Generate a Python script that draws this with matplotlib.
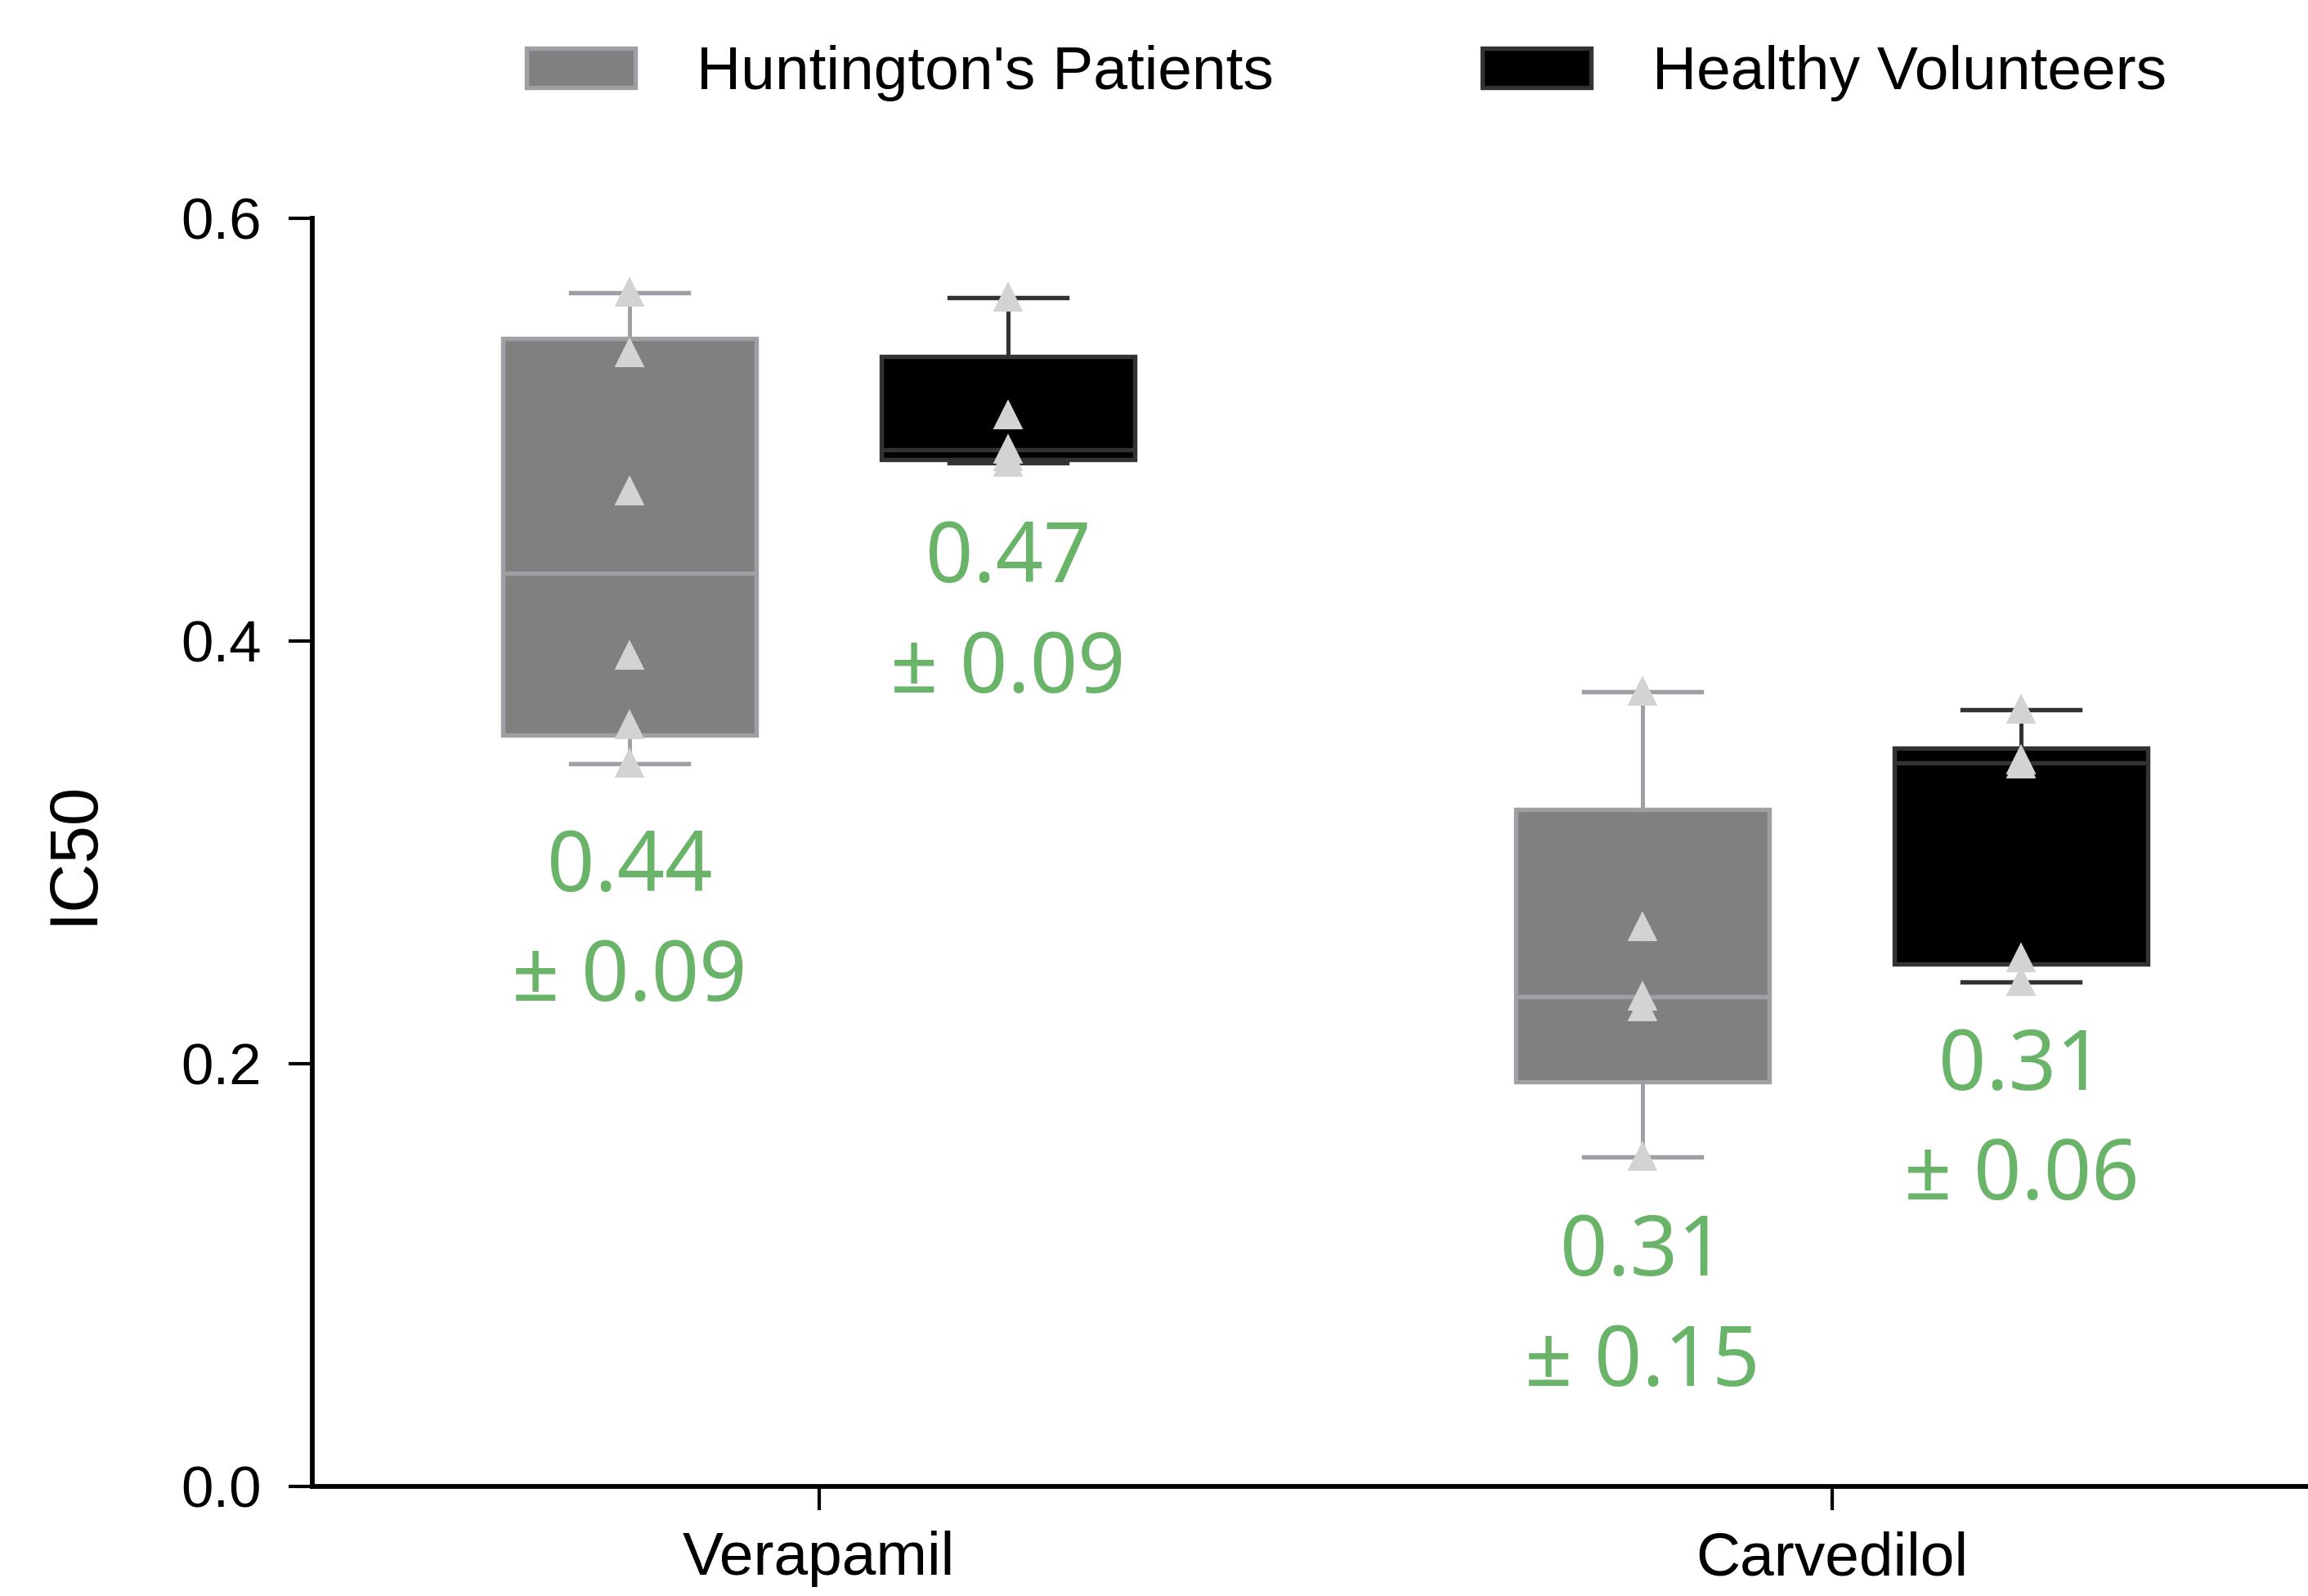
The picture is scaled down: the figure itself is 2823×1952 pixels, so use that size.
import matplotlib
matplotlib.use("Agg")
import matplotlib.pyplot as plt
import numpy as np
from matplotlib.patches import Patch

# IC50 per donor
drugs = ["Verapamil", "Carvedilol"]
groups = ["Huntington's Patients", "Healthy Volunteers"]

hd_verapamil = [0.342, 0.360, 0.393, 0.471, 0.536, 0.565]
hv_verapamil = [0.4844, 0.4872, 0.4907, 0.5068, 0.5624]
hd_carvedilol = [0.1559, 0.2269, 0.2318, 0.2645, 0.3759]
hv_carvedilol = [0.2387, 0.2499, 0.3416, 0.3434, 0.3434, 0.3675]

# mean +/- sd labels as printed on the chart
labels_hd = ["0.44\n\u00b1 0.09", "0.31\n\u00b1 0.15"]
labels_hv = ["0.47\n\u00b1 0.09", "0.31\n\u00b1 0.06"]
label_y_hd = [0.266, 0.084]
label_y_hv = [0.412, 0.172]

fill_cols = ["#808080", "#000000"]
edge_cols = ["#a0a0a4", "#333333"]
green = "#6ab46a"

plt.rcParams['font.family'] = ['Liberation Sans', 'DejaVu Sans']

fig = plt.figure(figsize=(2823/300, 1952/300), dpi=300)
ax = fig.add_axes([0.1353, 0.0686, 0.8647, 0.7946])

# stats like Prism: quartiles with (n+1) rule, whiskers min to max
def box_stats(vals):
    v = np.asarray(vals)
    q1, med, q3 = np.percentile(v, [25, 50, 75], method='weibull')
    return dict(q1=q1, med=med, q3=q3, whislo=v.min(), whishi=v.max(), fliers=[])

offset = 0.187
width = 0.25
data = [[hd_verapamil, hd_carvedilol], [hv_verapamil, hv_carvedilol]]
for g in range(2):
    pos = np.arange(len(drugs)) + (-offset if g == 0 else offset)
    stats = [box_stats(d) for d in data[g]]
    ax.bxp(stats, positions=pos, widths=width, capwidths=0.116,
           patch_artist=True, showfliers=False,
           boxprops=dict(facecolor=fill_cols[g], edgecolor=edge_cols[g], linewidth=1.3),
           medianprops=dict(color=edge_cols[g], linewidth=1.3),
           whiskerprops=dict(color=edge_cols[g], linewidth=1.2),
           capprops=dict(color=edge_cols[g], linewidth=1.3))
    for p, d in zip(pos, data[g]):
        ax.plot([p]*len(d), d, '^', color='#d3d3d3', markersize=7, zorder=5)

# annotations
for i in range(len(drugs)):
    ax.text(i - offset, label_y_hd[i], labels_hd[i], ha='center', va='center',
            color=green, fontsize=24.5, family='Noto Sans', linespacing=1.4)
    ax.text(i + offset, label_y_hv[i], labels_hv[i], ha='center', va='center',
            color=green, fontsize=24.5, family='Noto Sans', linespacing=1.4)

ax.set_xlim(-0.5, 1.47)
ax.set_ylim(0, 0.6)
ax.set_yticks([0.0, 0.2, 0.4, 0.6])
ax.set_yticklabels(["0.0", "0.2", "0.4", "0.6"])
ax.set_xticks(range(len(drugs)))
ax.set_xticklabels(drugs)
ax.tick_params(axis='y', length=7, width=1, labelsize=17, pad=8)
ax.tick_params(axis='x', length=7, width=1, labelsize=18, pad=6)
ax.set_ylabel("IC50", fontsize=20, labelpad=22)

ax.spines['top'].set_visible(False)
ax.spines['right'].set_visible(False)
ax.spines['left'].set_linewidth(1.4)
ax.spines['bottom'].set_linewidth(1.4)

handles = [Patch(facecolor=fill_cols[i], edgecolor=edge_cols[i], linewidth=1.3) for i in range(2)]
fig.legend(handles, groups, loc='center', bbox_to_anchor=(0.5835, 0.954), ncol=2,
           frameon=False, fontsize=18, handlelength=1.77, handleheight=0.6,
           handletextpad=1.0, columnspacing=3.4)

fig.savefig("out.png", dpi=300)
